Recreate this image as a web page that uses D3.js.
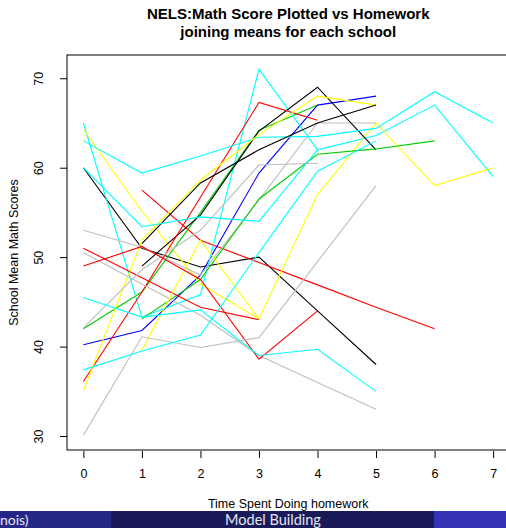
<!DOCTYPE html>
<html>
<head>
<meta charset="utf-8">
<script src="https://cdn.jsdelivr.net/npm/d3@7"></script>
<style>
  html, body { margin: 0; padding: 0; background: #fff; }
  svg { display: block; }
</style>
</head>
<body>
<svg id="chart" width="506" height="528"></svg>
<script>
// ---- data ----
const hours = [0, 1, 2, 3, 4, 5, 6, 7];
const xTicks = [0, 1, 2, 3, 4, 5, 6, 7];
const yTicks = [30, 40, 50, 60, 70];

// school means by homework hour (null = no students at that level)
const black1  = [60.0, 51.0, 48.9, 50.0, 44.0, 38.0, null, null];
const black2  = [null, 49.0, 54.7, 64.1, 69.0, 62.0, null, null];
const black3  = [null, 51.5, 58.3, 62.0, 65.0, 67.0, null, null];
const red1    = [null, 57.5, 51.9, 49.4, 46.9, 44.4, 42.0, null];
const red2    = [36.1, 46.1, 56.7, 67.3, 65.3, null, null, null];
const red3    = [51.0, 47.7, 44.4, 43.0, null, null, null, null];
const red4    = [49.0, 51.2, 47.5, 38.6, 44.0, null, null, null];
const green1  = [42.0, 46.1, 55.0, 64.2, 67.0, null, null, null];
const green2  = [null, 43.1, 47.5, 56.5, 61.5, 62.1, 63.0, null];
const blue1   = [40.2, 41.8, 48.0, 59.4, 67.0, 68.0, null, null];
const cyan1   = [65.0, 43.3, 45.8, 71.0, 62.0, 63.6, 67.0, 59.0];
const cyan2   = [63.0, 59.4, 61.3, 63.4, 63.5, 64.4, 68.5, 65.0];
const cyan3   = [60.0, 53.4, 54.5, 54.0, 62.0, null, null, null];
const cyan4   = [45.5, 43.3, 44.1, 39.0, 39.7, 35.0, null, null];
const cyan5   = [37.4, 39.5, 41.3, 50.5, 59.6, 63.0, null, null];
const yellow1 = [64.3, 55.1, 47.0, 43.1, 57.0, 65.0, 58.0, 60.0];
const yellow2 = [35.1, 51.9, 58.6, 63.7, 68.0, 67.0, null, null];
const yellow3 = [null, 39.6, 51.9, 43.1, null, null, null, null];
const gray1   = [53.0, 51.1, 48.0, 56.4, 65.0, 65.0, null, null];
const gray2   = [50.5, 47.0, 43.5, 39.0, 36.0, 33.0, null, null];
const gray3   = [42.1, 48.6, 53.0, 60.3, 60.5, null, null, null];
const gray4   = [30.1, 41.1, 39.9, 41.0, 49.5, 58.0, null, null];

const schools = [
  {v: black1, c: "black"}, {v: red1, c: "red"}, {v: green1, c: "green3"},
  {v: blue1, c: "blue"}, {v: cyan1, c: "cyan"}, {v: yellow1, c: "yellow"},
  {v: gray1, c: "gray"}, {v: black2, c: "black"}, {v: red2, c: "red"},
  {v: green2, c: "green3"}, {v: cyan2, c: "cyan"}, {v: yellow2, c: "yellow"},
  {v: gray2, c: "gray"}, {v: black3, c: "black"}, {v: red3, c: "red"},
  {v: cyan3, c: "cyan"}, {v: yellow3, c: "yellow"}, {v: gray3, c: "gray"},
  {v: red4, c: "red"}, {v: cyan4, c: "cyan"}, {v: gray4, c: "gray"},
  {v: cyan5, c: "cyan"}
];
const rColors = {black: "#000000", red: "#FF0000", green3: "#00CD00", blue: "#0000FF",
                 cyan: "#00FFFF", yellow: "#FFFF00", gray: "#BEBEBE"};

const titleLines = ["NELS:Math Score Plotted vs Homework", "joining means for each school"];
const xLabel = "Time Spent Doing homework";
const yLabel = "School Mean Math Scores";
const footLeft = "nois)";
const footMid = "Model Building";

// ---- layout ----
const plot = {left: 67, right: 509.5, top: 55, bottom: 450};
const font = "'Liberation Sans', Arial, Helvetica, sans-serif";

const svg = d3.select("#chart");

const x = d3.scaleLinear().domain([-0.28, 7.28]).range([plot.left, plot.right]);
const y = d3.scaleLinear().domain([28.44, 72.6]).range([plot.bottom, plot.top]);

// lines
const line = d3.line()
  .defined(d => d.v != null)
  .x(d => x(d.h))
  .y(d => y(d.v));

const gLines = svg.append("g");
schools.forEach(s => {
  const pts = hours.map((h, i) => ({h: h, v: s.v[i]}));
  gLines.append("path")
    .attr("d", line(pts))
    .attr("fill", "none")
    .attr("stroke", rColors[s.c])
    .attr("stroke-width", 1.1)
    .attr("stroke-linejoin", "miter");
});

// box
svg.append("rect")
  .attr("x", plot.left).attr("y", plot.top)
  .attr("width", plot.right - plot.left).attr("height", plot.bottom - plot.top)
  .attr("fill", "none").attr("stroke", "#000").attr("stroke-width", 1);

// x axis
const xAxis = d3.axisBottom(x).tickValues(xTicks).tickSize(7).tickPadding(11)
  .tickFormat(d3.format("d"));
const gx = svg.append("g").attr("transform", `translate(0,${plot.bottom + 1})`).call(xAxis);
gx.select(".domain").remove();
gx.selectAll("text").attr("font-family", font).attr("font-size", 12.5).attr("fill", "#000");
gx.selectAll("line").attr("stroke", "#000");

// y axis (labels rotated like R's las=0)
const yAxis = d3.axisLeft(y).tickValues(yTicks).tickSize(7).tickFormat(d3.format("d"));
const gy = svg.append("g").attr("transform", `translate(${plot.left},0)`).call(yAxis);
gy.select(".domain").remove();
gy.selectAll("line").attr("stroke", "#000");
gy.selectAll("text")
  .attr("font-family", font).attr("font-size", 12.5).attr("fill", "#000")
  .attr("x", null).attr("dy", null)
  .attr("text-anchor", "middle")
  .attr("transform", "translate(-24,0) rotate(-90)");

// titles
svg.append("text")
  .attr("x", (plot.left + plot.right) / 2).attr("y", 19)
  .attr("text-anchor", "middle").attr("font-family", font)
  .attr("font-weight", "bold").attr("font-size", 15).text(titleLines[0]);
svg.append("text")
  .attr("x", (plot.left + plot.right) / 2).attr("y", 37)
  .attr("text-anchor", "middle").attr("font-family", font)
  .attr("font-weight", "bold").attr("font-size", 15).text(titleLines[1]);

svg.append("text")
  .attr("x", (plot.left + plot.right) / 2).attr("y", 508)
  .attr("text-anchor", "middle").attr("font-family", font)
  .attr("font-size", 12.5).text(xLabel);

svg.append("text")
  .attr("transform", `translate(18,${(plot.top + plot.bottom) / 2}) rotate(-90)`)
  .attr("text-anchor", "middle").attr("font-family", font)
  .attr("font-size", 12.5).text(yLabel);

// beamer footline
const foot = svg.append("g");
foot.append("rect").attr("x", 0).attr("y", 511).attr("width", 111).attr("height", 17).attr("fill", "#262686");
foot.append("rect").attr("x", 111).attr("y", 511).attr("width", 323).attr("height", 17).attr("fill", "#1A1A59");
foot.append("rect").attr("x", 434).attr("y", 511).attr("width", 72).attr("height", 17).attr("fill", "#3333B3");
foot.append("text").attr("x", 0).attr("y", 524.5)
  .attr("font-family", "Lato, 'Open Sans', sans-serif").attr("font-size", 14)
  .attr("fill", "#e6e6f0").text(footLeft);
foot.append("text").attr("x", 273).attr("y", 524.5).attr("text-anchor", "middle")
  .attr("font-family", "Lato, 'Open Sans', sans-serif").attr("font-size", 14.5)
  .attr("fill", "#e6e6f0").text(footMid);
</script>
</body>
</html>
